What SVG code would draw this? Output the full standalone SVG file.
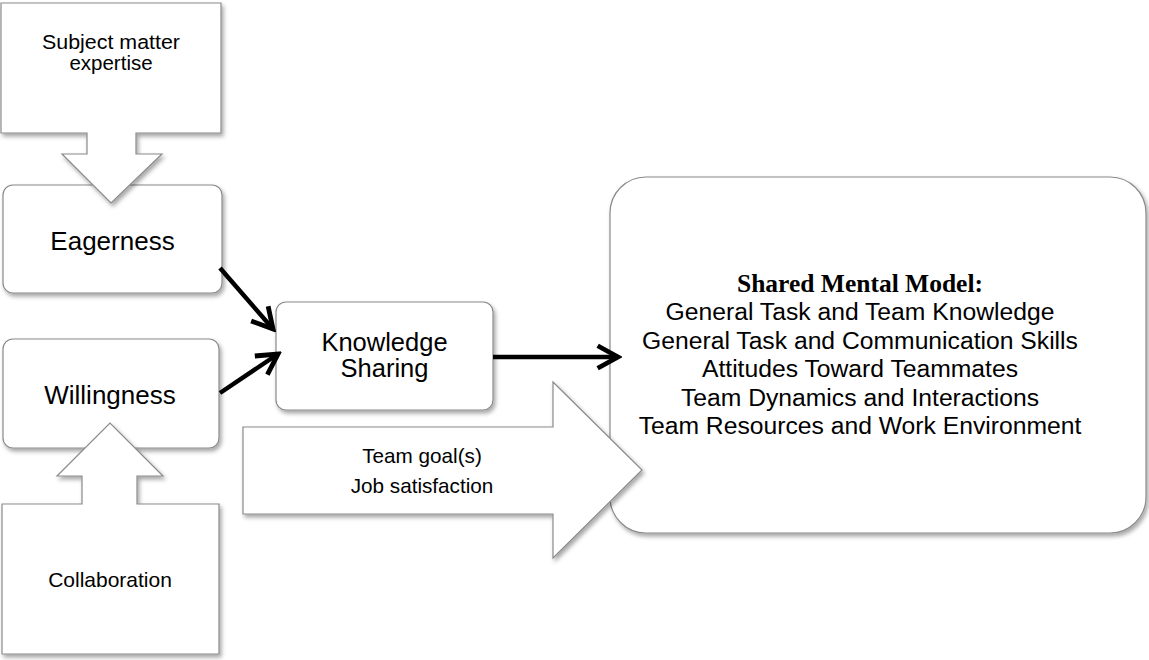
<svg xmlns="http://www.w3.org/2000/svg" width="1149" height="660" viewBox="0 0 1149 660">
<defs>
<filter id="sh" x="-10%" y="-10%" width="130%" height="130%">
<feDropShadow dx="2" dy="3" stdDeviation="2" flood-color="#000" flood-opacity="0.35"/>
</filter>
<marker id="ah" markerUnits="userSpaceOnUse" markerWidth="30" markerHeight="30" viewBox="-24 -14 28 28" refX="0" refY="0" orient="auto">
<path d="M-19,-10.5 L0,0 L-19,10.5" fill="none" stroke="#000" stroke-width="4.5" stroke-linejoin="miter"/>
</marker>
</defs>
<style>
.box{fill:#fff;stroke:#8a8a8a;stroke-width:1.2;filter:url(#sh)}
.t{font-family:"Liberation Sans",Arial,sans-serif;fill:#000;text-anchor:middle}
.c{stroke:#000;stroke-width:4.5;fill:none}
</style>
<rect width="1149" height="660" fill="#fff"/>

<g id="eagerness">
<rect class="box" x="3" y="185" width="219" height="108" rx="10"/>
<text class="t" x="112.5" y="250" font-size="26">Eagerness</text>
</g>
<g id="willingness">
<rect class="box" x="3" y="339" width="216" height="109" rx="10"/>
<text class="t" x="110" y="404" font-size="26">Willingness</text>
</g>
<g id="subject-matter-expertise">
<path class="box" d="M1,3 H221 V133 H136 V154 H162 L111,203 L62,154 H87 V133 H1 Z"/>
<text class="t" x="111" y="49" font-size="20.5" textLength="138" lengthAdjust="spacingAndGlyphs">Subject matter</text>
<text class="t" x="111" y="70" font-size="20.5">expertise</text>
</g>
<g id="collaboration">
<path class="box" d="M2,654 V504 H82 V476 H57 L110,423 L163,476 H137 V504 H219 V654 Z"/>
<text class="t" x="110" y="587" font-size="21">Collaboration</text>
</g>
<g id="knowledge-sharing">
<rect class="box" x="276" y="302" width="217" height="108" rx="10"/>
<text class="t" x="384.5" y="351" font-size="25.5">Knowledge</text>
<text class="t" x="384.5" y="377" font-size="25.5">Sharing</text>
</g>
<g id="shared-mental-model">
<rect class="box" x="610" y="177" width="536" height="356" rx="36"/>
<text x="860" y="292" font-size="25.5" font-weight="bold" text-anchor="middle" font-family="'Liberation Serif','Times New Roman',serif">Shared Mental Model:</text>
<text class="t" x="860" y="320" font-size="24.7">General Task and Team Knowledge</text>
<text class="t" x="860" y="348.5" font-size="24.7">General Task and Communication Skills</text>
<text class="t" x="860" y="377" font-size="24.7">Attitudes Toward Teammates</text>
<text class="t" x="860" y="405.5" font-size="24.7">Team Dynamics and Interactions</text>
<text class="t" x="860" y="434" font-size="24.7">Team Resources and Work Environment</text>
</g>
<g id="team-goals">
<path class="box" d="M243,427 H553 V382 L642,470 L553,558 V514 H243 Z"/>
<text class="t" x="422" y="463" font-size="20.7">Team goal(s)</text>
<text class="t" x="422" y="493" font-size="20.7">Job satisfaction</text>
</g>

<g id="connectors">
<line class="c" x1="220" y1="268" x2="273" y2="329" marker-end="url(#ah)"/>
<line class="c" x1="220" y1="393" x2="278" y2="354" marker-end="url(#ah)"/>
<line class="c" x1="493" y1="357" x2="618" y2="357" marker-end="url(#ah)"/>
</g>
</svg>
